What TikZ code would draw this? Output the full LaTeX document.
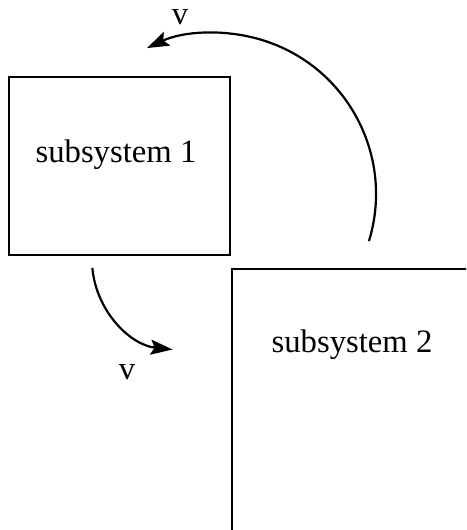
\documentclass[tikz,border=0pt]{standalone}
\usepackage{fontspec}
\setmainfont{Liberation Serif}
\usetikzlibrary{arrows.meta,calc}
\tikzset{
  box/.style={draw, line width=2.3pt, rectangle, inner sep=0pt},
  lbl/.style={font=\fontsize{32.7}{38}\selectfont, inner sep=0pt},
  flow/.style={line width=2.2pt, -{Stealth[length=22pt,width=15pt,inset=4pt]}}
}
\begin{document}
\begin{tikzpicture}[x=1pt,y=1pt]
\clip (0,0) rectangle (466,530);
\fill[white] (0,0) rectangle (466,530);
\node[box, minimum width=221pt, minimum height=178pt] (s1) at (119.5,364) {};
\node[box, minimum width=300pt, minimum height=320pt, anchor=north west] (s2) at (231,262) {};
\node[lbl] (t1) at (116,375) {subsystem 1};
\node[lbl] (t2) at (352,185) {subsystem 2};
\coordinate (a1) at ($(215,336)+(-17:161)$);
\coordinate (b1) at ($(182,270)+(185:90)$);
\draw[flow] (a1) arc[start angle=-17, end angle=115, radius=161];
\draw[flow] (b1) arc[start angle=185, end angle=264, radius=90];
\node[lbl] (v1) at (180,513) {v};
\node[lbl] (v2) at (127,158) {v};
\end{tikzpicture}
\end{document}
